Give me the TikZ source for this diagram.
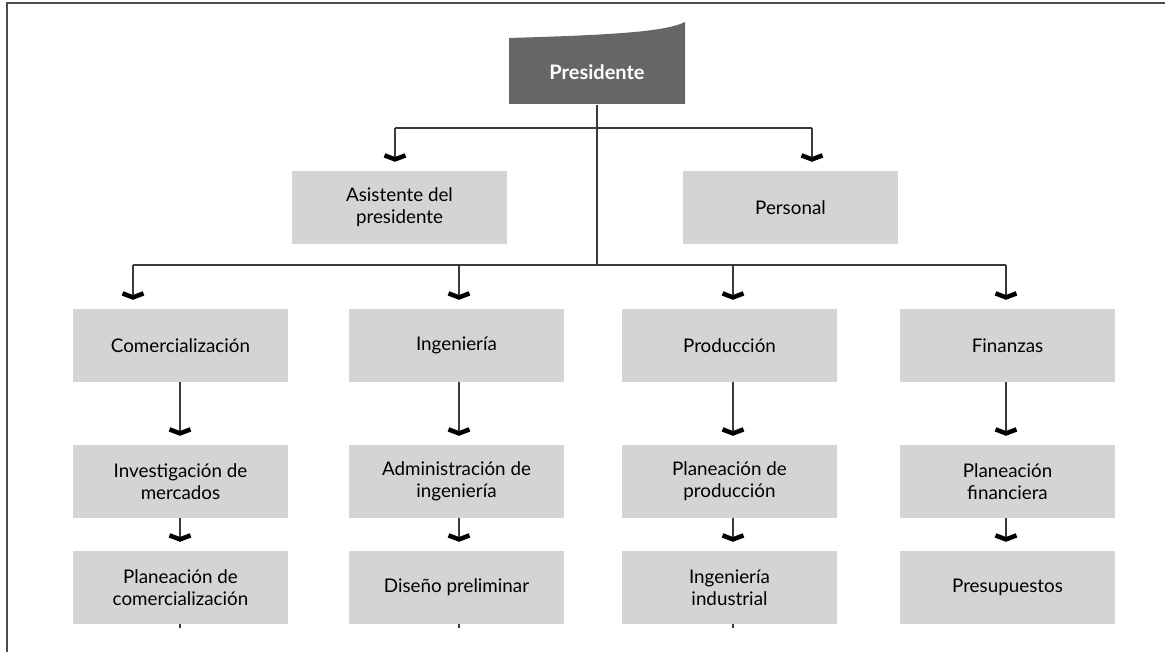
\documentclass[tikz,border=0pt]{standalone}
\usepackage{fontspec}
\setmainfont{Lato}
\usetikzlibrary{arrows.meta}
\definecolor{boxgray}{HTML}{D4D4D4}
\definecolor{topgray}{HTML}{666666}
\definecolor{linegray}{HTML}{3A3A3A}
\tikzset{
  unit/.style={rectangle, fill=boxgray, minimum width=215pt, minimum height=73pt,
    inner sep=0pt, align=center, font=\fontsize{18.8}{22}\selectfont},
  conn/.style={draw=linegray, line width=1.3pt},
  arr/.style={conn, -{Straight Barb[length=4pt,width=21pt,line width=4.5pt,
      line join=miter,line cap=butt,color=black]}, shorten >=9pt},
}
\begin{document}
\begin{tikzpicture}[x=1pt,y=-1pt]
\useasboundingbox (0,0) rectangle (1165,652);
% page frame (top and left rules)
\draw[line width=2pt, gray!60!black] (7,652) -- (7,3) -- (1165,3);

% head of the organisation
\fill[topgray] (509,104) -- (509,38) .. controls (610,35) and (665,32) .. (685,22) -- (685,104) -- cycle;
\node[minimum width=176pt, minimum height=66pt, inner sep=0pt, text=white,
      font=\fontsize{20}{24}\selectfont\bfseries] (pres) at (597,72) {Presidente};

% staff level
\node[unit] (asis) at (399.5,207.5) {Asistente del\\presidente};
\node[unit] (pers) at (790.5,207.5) {Personal};

% departments
\node[unit] (c1) at (180.5,345.5) {Comercialización};
\node[unit] (c2) at (456.5,345.5) {Ingeniería};
\node[unit] (c3) at (729.5,345.5) {Producción};
\node[unit] (c4) at (1007.5,345.5) {Finanzas};

\node[unit] (m1) at (180.5,481.5) {Investigación de\\mercados};
\node[unit] (m2) at (456.5,481.5) {Administración de\\ingeniería};
\node[unit] (m3) at (729.5,481.5) {Planeación de\\producción};
\node[unit] (m4) at (1007.5,481.5) {Planeación\\financiera};

\node[unit] (b1) at (180.5,587.5) {Planeación de\\comercialización};
\node[unit] (b2) at (456.5,587.5) {Diseño preliminar};
\node[unit] (b3) at (729.5,587.5) {Ingeniería\\industrial};
\node[unit] (b4) at (1007.5,587.5) {Presupuestos};

% junction points of the buses
\coordinate (j1) at (597,128);
\coordinate (j2) at (597,265);
\coordinate (sa) at (395,128);
\coordinate (sp) at (812,128);
\coordinate (t1) at (133,265);
\coordinate (t2) at (459,265);
\coordinate (t3) at (733,265);
\coordinate (t4) at (1006,265);

% trunk and buses
\draw[conn] (pres.south) -- (j2);
\draw[conn] (sa) -- (sp);
\draw[conn] (t1) -- (t4);
\draw[arr] (sa) -- (sa |- asis.north);
\draw[arr] (sp) -- (sp |- pers.north);
\draw[arr] (t1) -- (t1 |- c1.north);
\draw[arr] (t2) -- (t2 |- c2.north);
\draw[arr] (t3) -- (t3 |- c3.north);
\draw[arr] (t4) -- (t4 |- c4.north);

% column chains
\coordinate (x1) at (180,0);
\coordinate (x2) at (459,0);
\coordinate (x3) at (733,0);
\coordinate (x4) at (1006,0);
\foreach \i in {1,2,3,4} {
  \draw[arr] (x\i |- c\i.south) -- (x\i |- m\i.north);
  \draw[arr] (x\i |- m\i.south) -- (x\i |- b\i.north);
}
\foreach \i in {1,2,3} {
  \draw[conn] (x\i |- b\i.south) -- ++(0,4);
}
\end{tikzpicture}
\end{document}
